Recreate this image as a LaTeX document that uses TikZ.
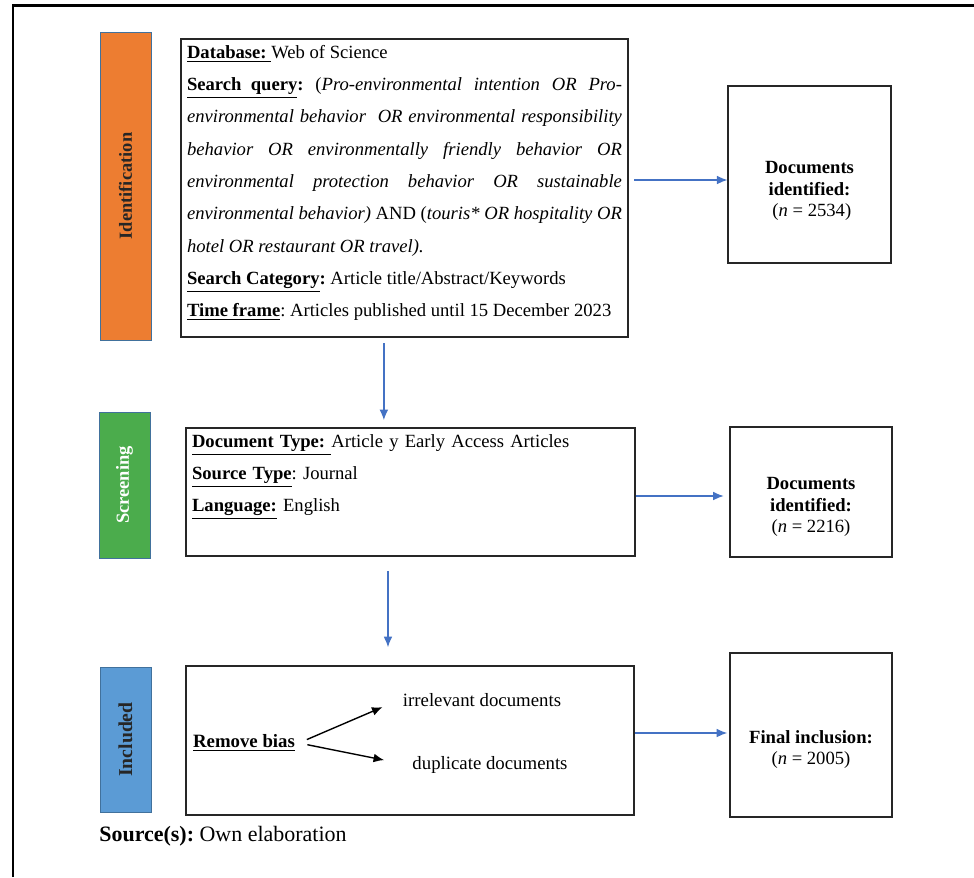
\documentclass[tikz,border=0pt]{standalone}
\usepackage{fontspec}
\setmainfont{Liberation Serif}
\usepackage{xcolor}
\definecolor{idorange}{RGB}{237,125,49}
\definecolor{scgreen}{RGB}{75,172,76}
\definecolor{inblue}{RGB}{91,155,213}
\definecolor{barline}{RGB}{65,113,156}
\definecolor{arrblue}{RGB}{68,114,196}
\usetikzlibrary{arrows.meta,positioning,calc}
\frenchspacing

\begin{document}
\begin{tikzpicture}[x=0.02cm, y=-0.02cm,
  phase/.style={draw=barline, line width=0.5pt, minimum width=1.02cm, inner sep=0pt, font=\fontsize{10.5}{12}\selectfont\bfseries},
  infobox/.style={draw=black!85, line width=0.9pt, inner xsep=0.12cm, inner ysep=0pt},
  countbox/.style={draw=black!85, line width=0.9pt, minimum width=3.25cm, align=center, font=\fontsize{10.6}{12.4}\selectfont},
  flow/.style={draw=arrblue, line width=0.8pt, -{Latex[length=6pt,width=5pt]}},
  split/.style={draw=black, line width=0.8pt, -{Latex[length=6pt,width=5pt]}}
]
  \useasboundingbox (0,0) rectangle (974,877);
  %% Frame (cut at right and bottom)
  \draw[line width=1.7pt] (13,877) -- (13,5) -- (974,5);

  %% Phase bars
  \node[phase, fill=idorange, minimum height=6.16cm, text=black!85] (idbar) at (125.5,186) {\rotatebox{90}{Identification}};
  \node[phase, fill=scgreen, minimum height=2.92cm, text=white] (scbar) at (124.5,485) {\rotatebox{90}{Screening}};
  \node[phase, fill=inblue, minimum height=2.90cm, text=black!85, font=\fontsize{11.2}{12}\selectfont\bfseries] (inbar) at (125.5,739.5) {\rotatebox{90}{Included}};

  %% Identification
  \node[infobox, minimum height=5.96cm, text width=8.7cm, align=justify, font=\fontsize{10.6}{18.4}\selectfont] (qbox) at (404.5,188) {%
    \underline{\textbf{Database:}\ }Web of Science\\
    \underline{\textbf{Search\ \ query}}\textbf{:} (\textit{Pro-environmental intention OR Pro-}\linebreak
    \textit{environmental behavior\ \ OR environmental responsibility}\linebreak
    \textit{behavior OR environmentally friendly behavior OR}\linebreak
    \textit{environmental protection behavior OR sustainable}\linebreak
    \textit{environmental behavior)} AND (\textit{touris* OR hospitality OR}\linebreak
    \textit{hotel OR restaurant OR travel).}\\
    \underline{\textbf{Search Category}}\textbf{:} Article title/Abstract/Keywords\\
    \underline{\textbf{Time frame}}: Articles published until 15 December 2023\rule[-0.28cm]{0pt}{0.28cm}};
  \node[countbox, minimum height=3.54cm] (dbox1) at (809.5,174.5) {\rule{0pt}{0.9cm}\textbf{Documents}\\\textbf{identified:}\\\ (\textit{n} = 2534)};

  %% Screening
  \node[infobox, minimum height=2.56cm, text width=8.74cm, align=left, font=\fontsize{10.6}{18.1}\selectfont] (sbox) at (410.5,492) {%
    \underline{\textbf{Document Type:}\ }Article y Early Access Articles\\
    \underline{\textbf{Source Type}}: Journal\\
    \underline{\textbf{Language:}} English\\
    \mbox{}\rule[-0.12cm]{0pt}{0.12cm}};
  \node[countbox, minimum height=2.60cm] (dbox2) at (811,492) {\rule{0pt}{0.84cm}\textbf{Documents}\\\textbf{identified:}\\(\textit{n} = 2216)};

  %% Included
  \node[infobox, minimum height=2.98cm, minimum width=8.96cm] (ibox) at (410,740.5) {};
  \node[font=\fontsize{10.7}{12}\selectfont, inner sep=2pt] (rb) at (244,743) {\underline{\textbf{Remove bias}}};
  \node[font=\fontsize{10.7}{12}\selectfont, inner sep=2pt] (irr) at (482,700) {irrelevant documents};
  \node[font=\fontsize{10.7}{12}\selectfont, inner sep=2pt] (dup) at (490,765) {duplicate documents};
  \draw[split, shorten <=5pt, shorten >=0.36cm] (rb.east) -- (irr.west);
  \draw[split, shorten <=5pt, shorten >=0.5cm] (rb.east) -- (dup.west);
  \node[countbox, minimum height=3.28cm] (fbox) at (811,735) {\rule{0pt}{0.84cm}\textbf{Final inclusion:}\\(\textit{n} = 2005)};

  %% Flow arrows
  \draw[flow, shorten <=3pt] (qbox.east |- 0,180) -- (dbox1.west |- 0,180);
  \draw[flow, shorten <=0pt, shorten >=3pt] (sbox.east |- 0,496) -- (dbox2.west |- 0,496);
  \draw[flow, shorten >=1pt] (ibox.east |- 0,733) -- (fbox.west |- 0,733);
  \coordinate (d1) at ($(qbox.south west)!0.454!(qbox.south east)$);
  \draw[flow, shorten <=3pt, shorten >=4pt] (d1) -- (d1 |- sbox.north);
  \coordinate (d2) at ($(sbox.south west)!0.45!(sbox.south east)$);
  \draw[flow, shorten <=0.28cm, shorten >=0.36cm] (d2) -- (d2 |- ibox.north);

  %% Source
  \node[anchor=west, inner sep=0pt, font=\fontsize{12.5}{14}\selectfont] (src) at (99,836) {\textbf{Source(s):} Own elaboration};
\end{tikzpicture}
\end{document}
